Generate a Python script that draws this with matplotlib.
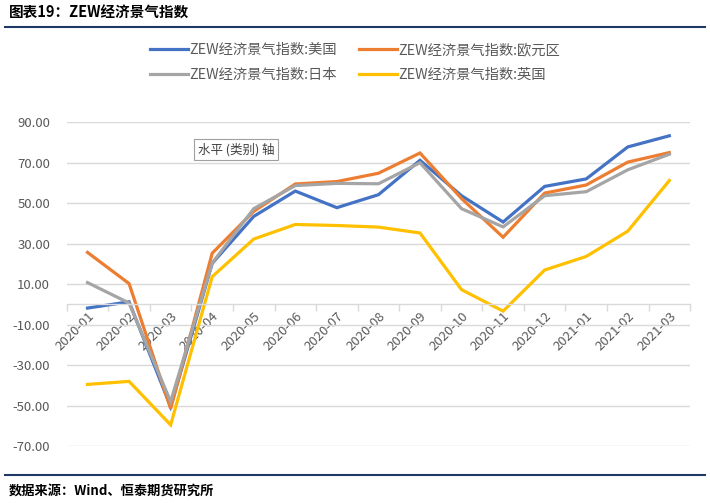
import numpy as np
import matplotlib
matplotlib.use("Agg")
import matplotlib.pyplot as plt
from matplotlib.lines import Line2D

plt.rcParams['font.family'] = ['Noto Sans CJK SC', 'DejaVu Sans']

# 数据
months = ["2020-01", "2020-02", "2020-03", "2020-04", "2020-05", "2020-06", "2020-07",
          "2020-08", "2020-09", "2020-10", "2020-11", "2020-12", "2021-01", "2021-02", "2021-03"]
us = [-1.8, 1.3, -50.5, 20.3, 43.5, 56.0, 47.8, 54.2, 71.2, 53.7, 40.7, 58.3, 62.0, 77.8, 83.3]
ez = [25.7, 10.3, -51.5, 25.3, 46.0, 59.5, 60.7, 64.8, 74.8, 52.3, 33.2, 55.0, 59.0, 70.3, 75.0]
jp = [10.8, 0.7, -48.0, 20.5, 47.3, 58.7, 59.8, 59.6, 70.0, 47.3, 38.3, 53.7, 55.7, 66.5, 74.2]
uk = [-39.5, -38.0, -59.5, 13.7, 32.3, 39.5, 39.0, 38.2, 35.3, 7.3, -3.3, 17.0, 23.7, 36.2, 61.2]

names = ["ZEW经济景气指数:美国", "ZEW经济景气指数:欧元区", "ZEW经济景气指数:日本", "ZEW经济景气指数:英国"]
colors = ["#4472C4", "#ED7D31", "#A5A5A5", "#FFC000"]

fig = plt.figure(figsize=(7.1, 5.03), dpi=100)
ax = fig.add_axes([0.094, 0.113, 0.878, 0.644])

x = np.arange(len(months))
for y, c in zip([us, ez, jp, uk], colors):
    ax.plot(x, y, color=c, lw=2.3, solid_joinstyle='miter')

ax.set_xlim(-0.5, len(months) - 0.5)
ax.set_ylim(-70, 90)
ax.set_yticks(np.arange(-70, 91, 20))
ax.set_yticklabels([f"{v:.2f}" for v in np.arange(-70, 91, 20)], color="#595959", fontsize=9.5)
ax.yaxis.grid(True, color="#D9D9D9", lw=1)
ax.set_axisbelow(True)
ax.tick_params(axis='y', length=0, pad=12)

for s in ['top', 'right', 'left']:
    ax.spines[s].set_visible(False)
ax.spines['bottom'].set_position(('data', 0))
ax.spines['bottom'].set_color("#D9D9D9")
ax.spines['bottom'].set_linewidth(1)

ax.set_xticks(x)
ax.set_xticklabels(months, rotation=45, ha='right', rotation_mode='anchor',
                   color="#595959", fontsize=9.5)
ax.tick_params(axis='x', length=0, pad=4)
ax.set_xticks(np.arange(-0.5, len(months), 1), minor=True)
ax.tick_params(axis='x', which='minor', length=5, color="#D9D9D9", width=1)

# 提示框
ax.text(2.65, 76.5, "水平 (类别) 轴", fontsize=9, color="#404040", va='center', ha='left',
        bbox=dict(boxstyle='square,pad=0.3', fc='white', ec='#A0A0A0', lw=0.8))

# 图例 (按行排列: 美国, 欧元区 / 日本, 英国)
handles = [Line2D([0], [0], color=c, lw=2.3) for c in colors]
order = [0, 2, 1, 3]
fig.legend([handles[i] for i in order], [names[i] for i in order], ncol=2,
           loc='upper center', bbox_to_anchor=(0.5, 0.94),
           frameon=False, fontsize=10.3, labelcolor="#595959", handlelength=2.6,
           handletextpad=0.1, columnspacing=1.6, labelspacing=0.75)

# 标题与来源
fig.text(0.012, 0.975, "图表19：ZEW经济景气指数", fontsize=10.5, fontweight='bold', va='center')
fig.add_artist(Line2D([0.007, 0.993], [0.946, 0.946], color="#1F3864", lw=1.5))
fig.add_artist(Line2D([0.007, 0.993], [0.056, 0.056], color="#1F3864", lw=1.5))
fig.text(0.012, 0.025, "数据来源：Wind、恒泰期货研究所", fontsize=9.5, fontweight='bold', va='center')

fig.savefig("out.png", dpi=100)
